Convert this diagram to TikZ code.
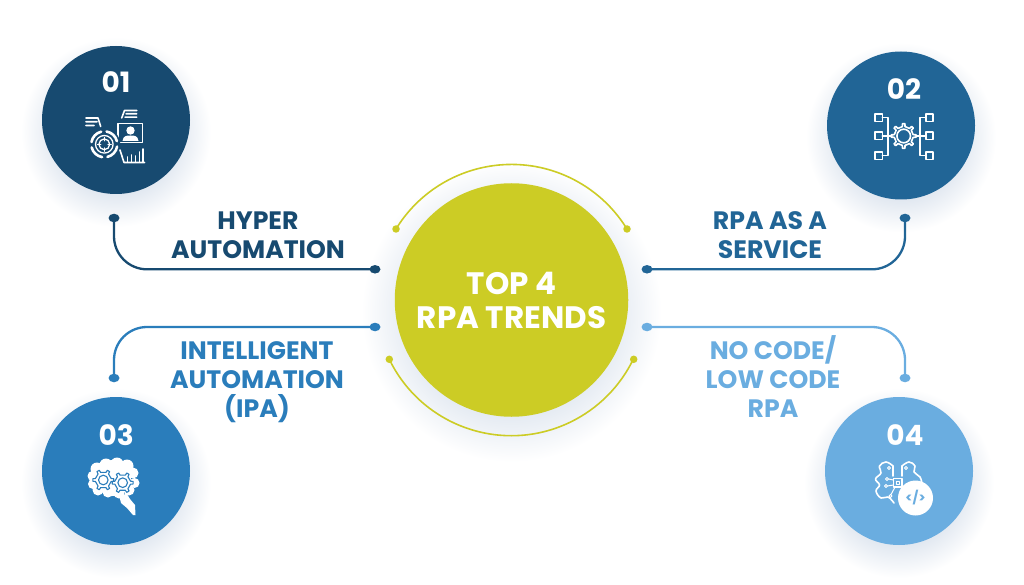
\documentclass[tikz,border=0pt]{standalone}
\usepackage{fontspec}
\setmainfont{Poppins}
\usetikzlibrary{shapes.geometric}
\definecolor{navyblue}{HTML}{174A70}
\definecolor{steelblue}{HTML}{216596}
\definecolor{midblue}{HTML}{2A7DBB}
\definecolor{skyblue}{HTML}{6AADE0}
\definecolor{limegreen}{HTML}{CCCC25}
\definecolor{glowblue}{HTML}{E0E7F0}
\pgfdeclareradialshading{softglow}{\pgfpoint{0bp}{0bp}}{color(0bp)=(glowblue); color(16bp)=(glowblue); color(25bp)=(white); color(50bp)=(white)}
\newcommand{\softshadow}[3]{\shade[shading=softglow] (#1,{#2+12}) circle[radius=#3];}
\newcommand{\gearoutline}[5][]{%
  \begin{scope}[shift={(#2)}]
    \pgfmathsetmacro{\gearstep}{360/#5}
    \draw[#1] (-.18*\gearstep:#3) \foreach \k in {1,...,#5}{ -- ({(\k-1.18)*\gearstep}:#3) -- ({(\k-1.12)*\gearstep}:#4) -- ({(\k-.88)*\gearstep}:#4) -- ({(\k-.82)*\gearstep}:#3) -- ({(\k-.18)*\gearstep}:#3)} -- cycle;
  \end{scope}}
\begin{document}
\begin{tikzpicture}[x=1pt,y=-1pt,line cap=round,line join=round,
  badge/.style={circle,minimum size=148pt,inner sep=0pt,fill=#1},
  badgenum/.style={text=white,font=\bfseries\fontsize{28}{30}\selectfont,inner sep=0pt},
  trendlabel/.style={text=#1,align=center,inner sep=0pt,font=\bfseries\fontsize{25.2}{29}\selectfont},
  enddot/.style={ellipse,minimum width=11pt,minimum height=8.5pt,inner sep=0pt,fill=#1},
  ringdot/.style={circle,minimum size=7.5pt,inner sep=0pt,fill=limegreen},
  connector/.style={draw=#1,line width=2.3pt,rounded corners=33pt},
  iconline/.style={draw=white,line width=1.6pt}]
  \useasboundingbox (0,0) rectangle (1024,585);
  % Soft shadows under the discs.
  \softshadow{116}{120}{95}
  \softshadow{901}{125.5}{95}
  \softshadow{116}{471}{95}
  \softshadow{899}{471}{95}
  \softshadow{511.5}{300}{150}
  % Centre disc and its two rings.
  \node[circle,minimum size=233.5pt,inner sep=0pt,fill=limegreen] (centre) at (511.5,300) {};
  \node[text=white,align=center,inner sep=0pt,font=\bfseries\fontsize{31}{34}\selectfont] (title) at (511.5,300) {TOP 4\\RPA TRENDS};
  \node[ringdot] (topleft) at (396,229) {};
  \node[ringdot] (topright) at (627,229) {};
  \node[ringdot] (lowleft) at (389.3,359.3) {};
  \node[ringdot] (lowright) at (633.7,359.3) {};
  \draw[limegreen,line width=1.6pt] (topleft.center) arc[start angle=211.6,end angle=328.4,radius=135.6];
  \draw[limegreen,line width=1.6pt] (lowleft.center) arc[start angle=154.1,end angle=25.9,radius=135.6];
  % The four numbered discs.
  \node[badge=navyblue] (hyper) at (116,120) {};
  \node[badge=steelblue] (service) at (901,125.5) {};
  \node[badge=midblue] (intelligent) at (116,471) {};
  \node[badge=skyblue] (nocode) at (899,471) {};
  \node[badgenum] (hypernum) at (116,82) {01};
  \node[badgenum] (servicenum) at (904,89) {02};
  \node[badgenum] (intelligentnum) at (116.3,435) {03};
  \node[badgenum] (nocodenum) at (905,435) {04};
  % Connectors.
  \node[enddot=navyblue] (hyperup) at (114,218) {};
  \node[enddot=navyblue] (hyperin) at (375,269.3) {};
  \node[enddot=steelblue] (serviceup) at (905,218) {};
  \node[enddot=steelblue] (servicein) at (647,269.3) {};
  \node[enddot=midblue] (intelligentdown) at (114,378) {};
  \node[enddot=midblue] (intelligentin) at (375,327) {};
  \node[enddot=skyblue] (nocodedown) at (905,378) {};
  \node[enddot=skyblue] (nocodein) at (647,327) {};
  \draw[connector=navyblue] (hyperup.center) |- (hyperin.center);
  \draw[connector=steelblue] (serviceup.center) |- (servicein.center);
  \draw[connector=midblue] (intelligentdown.center) |- (intelligentin.center);
  \draw[connector=skyblue] (nocodedown.center) |- (nocodein.center);
  % Labels.
  \node[trendlabel=navyblue] (hyperlabel) at (258,235) {HYPER\\AUTOMATION};
  \node[trendlabel=steelblue] (servicelabel) at (770,235) {RPA AS A\\SERVICE};
  \node[trendlabel=midblue] (intelligentlabel) at (257,382) {INTELLIGENT\\AUTOMATION\\(IPA)};
  \node[trendlabel=skyblue] (nocodelabel) at (773,377) {NO CODE/\\LOW CODE\\RPA};
  % Icon 01: target, portrait, lists and bars.
  \draw[iconline] (118,123.5) rectangle (142.5,142.5);
  \fill[white] (130.5,130.5) circle[radius=4.2];
  \fill[white] (122.5,141) .. controls (123,135.5) and (127,135.5) .. (130.5,135.5) .. controls (134,135.5) and (138,135.5) .. (138.5,141) -- cycle;
  \fill[navyblue] (104.3,144.3) circle[radius=16];
  \begin{scope}[shift={(104.3,144.3)}]
    \foreach \a in {10,100,190,280}{\draw[iconline,line width=2.6pt] (\a:13) arc[start angle=\a,end angle=\a+66,radius=13];}
    \draw[iconline,line width=1.3pt] (0,0) circle[radius=8.8];
    \draw[iconline,line width=1.3pt] (0,0) circle[radius=5.4];
    \draw[iconline,line width=1.1pt] (-7,0)--(-3.5,0) (3.5,0)--(7,0) (0,-7)--(0,-3.5) (0,3.5)--(0,7);
  \end{scope}
  \draw[iconline] (121.7,118)--(124.5,110.5)--(136.7,110.5) (126,113.8)--(136.7,113.8) (125,117.2)--(136.7,117.2);
  \draw[iconline] (86,118)--(98,118)--(100.7,126.5) (86,121.8)--(97,121.8) (86,125.5)--(94,125.5);
  \draw[iconline] (120,150)--(124,162.5)--(144.5,162.5);
  \draw[iconline,line width=1.9pt] (127.5,162)--(127.5,157) (131.5,162)--(131.5,155) (135.5,162)--(135.5,156) (139.5,162)--(139.5,152) (143,162)--(143,149);
  % Icon 02: gear between two columns of boxes.
  \gearoutline[iconline]{903.7,136}{9.5}{12.5}{8}
  \draw[iconline] (903.7,136) circle[radius=6.8];
  \foreach \y in {117.7,136,155.7}{
    \draw[iconline] (875,\y-3.7) rectangle (882.3,\y+3.7);
    \draw[iconline] (925.7,\y-3.7) rectangle (933,\y+3.7);
  }
  \draw[iconline] (882.3,117.7)--(887.7,117.7)--(887.7,155.7)--(882.3,155.7) (882.3,136)--(892,136);
  \draw[iconline] (925.7,117.7)--(920,117.7)--(920,155.7)--(925.7,155.7) (925.7,136)--(916,136);
  % Icon 03: brain with two gears.
  \foreach \x/\y/\r in {97/469/6.5,106/465/6.5,117/464/6.5,127/466/6.5,133/473/5.5,134.5/483/5,129/490/5.5,119/493/5.5,108/492/5.5,98/490/5.5,93/484/5,92.5/476/5}
    \fill[white] (\x,\y) circle[radius=\r];
  \fill[white] (113,478) circle[radius=18];
  \fill[white] (119,495)--(127,494)--(130,499)--(135,505)--(135.5,515)--(133,515)--(127,508)--(121,503)--cycle;
  \gearoutline[draw=midblue,line width=1.1pt]{103.3,480}{8}{10.5}{6}
  \gearoutline[draw=midblue,line width=1.1pt]{122.7,482.7}{8}{10.5}{6}
  \draw[midblue,line width=1.1pt] (103.3,480) circle[radius=4.8] (122.7,482.7) circle[radius=4.8];
  % Icon 04: outlined brain, chip and code badge.
  \draw[iconline] plot[smooth,tension=.7] coordinates {(893,466) (886,462) (879.5,466) (881,473) (875.5,479) (879.5,485) (876,491) (881,498) (888,497) (894,503)};
  \draw[iconline] plot[smooth,tension=.7] coordinates {(902,466) (909,462) (915,466) (914,472) (920,477) (922,484)};
  \draw[iconline] (893,466)--(893,476) (902,466)--(902,476);
  \draw[iconline] (893.5,478.5) rectangle (902,487);
  \draw[iconline,line width=.9pt] (896.5,481.5) rectangle (899.5,484.5);
  \draw[iconline,line width=1pt] (889,468) circle[radius=1.5] (906,468) circle[radius=1.5] (887,479) circle[radius=1.5] (886,486) circle[radius=1.5] (890.5,496) circle[radius=1.5];
  \draw[iconline,line width=1pt] (888.5,479)--(893.5,480) (887.5,486)--(893.5,485) (891,494.5)--(895,487);
  \node[circle,minimum size=35pt,inner sep=0pt,fill=white,text=skyblue,font=\bfseries\fontsize{13}{13}\selectfont] (codebadge) at (915.5,498) {</>};
\end{tikzpicture}
\end{document}
